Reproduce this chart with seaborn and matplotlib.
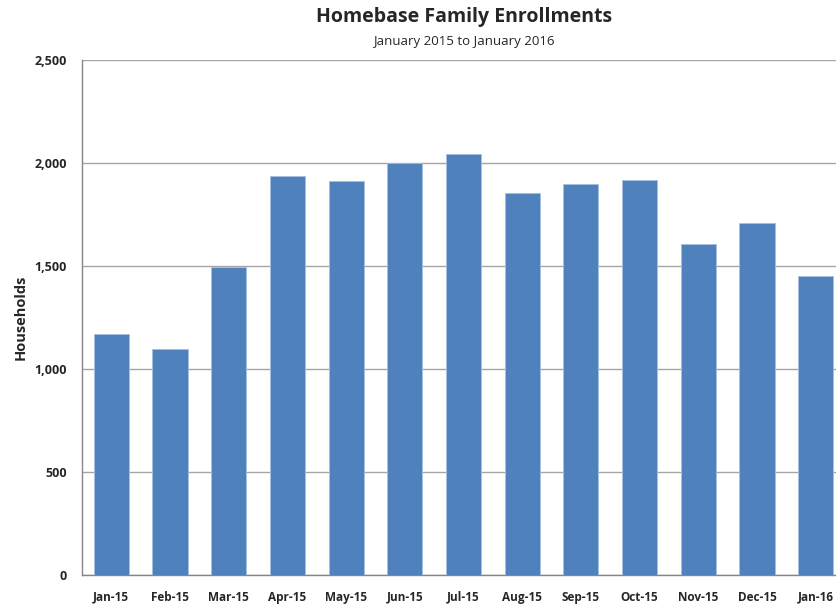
import numpy as np
import pandas as pd
import matplotlib
matplotlib.use("Agg")
import matplotlib.pyplot as plt
from matplotlib.ticker import FuncFormatter, FixedLocator
import seaborn as sns

months = ["Jan-15", "Feb-15", "Mar-15", "Apr-15", "May-15", "Jun-15", "Jul-15",
          "Aug-15", "Sep-15", "Oct-15", "Nov-15", "Dec-15", "Jan-16"]
households = [1170, 1098, 1498, 1940, 1913, 2000, 2044,
              1856, 1901, 1919, 1608, 1712, 1453]
y_ticks = [0, 500, 1000, 1500, 2000, 2500]

df = pd.DataFrame({"month": months, "households": households})

sns.set_style("white")
plt.rcParams["font.family"] = ["Open Sans", "DejaVu Sans"]

W, H = 837, 604
fig = plt.figure(figsize=(W / 100, H / 100), dpi=100)
# plot area runs slightly past the right edge, like the cropped original
ax = fig.add_axes([82 / W, (H - 575.3) / H, 763 / W, 515 / H])

sns.barplot(data=df, x="month", y="households", color="#4F81BD",
            saturation=1, width=0.6, edgecolor="#A7C0E0", linewidth=0.6,
            ax=ax, zorder=3)

ax.set_xlim(-0.5, len(months) - 0.5)
ax.set_ylim(0, 2500)
ax.yaxis.set_major_locator(FixedLocator(y_ticks))
ax.yaxis.set_major_formatter(FuncFormatter(lambda v, p: f"{int(v):,}"))
ax.grid(axis="y", color="#A6A6A6", linewidth=1, zorder=0)

for side in ["top", "right"]:
    ax.spines[side].set_visible(False)
for side in ["left", "bottom"]:
    ax.spines[side].set_color("#868686")
    ax.spines[side].set_linewidth(1)

# tick marks between categories, labels centred without marks
ax.set_xticks(np.arange(len(months)))
ax.set_xticklabels(months, fontweight="bold", fontsize=8.5)
ax.set_xticks(np.arange(-0.5, len(months)), minor=True)
ax.tick_params(axis="x", which="major", length=0, pad=11)
ax.tick_params(axis="x", which="minor", length=5, color="#868686", width=1)
ax.tick_params(axis="y", length=5, color="#868686", width=1, pad=6, labelsize=9)
for lbl in ax.get_yticklabels():
    lbl.set_fontweight("bold")

ax.set_xlabel("")
ax.set_ylabel("Households", fontsize=10.5, fontweight="bold", labelpad=5)

fig.text(464 / W, 1 - 17 / H, "Homebase Family Enrollments", ha="center",
         va="center", fontsize=14, fontweight="bold")
fig.text(464 / W, 1 - 42 / H, "January 2015 to January 2016", ha="center",
         va="center", fontsize=9.5)

fig.savefig("out.png", dpi=100)
